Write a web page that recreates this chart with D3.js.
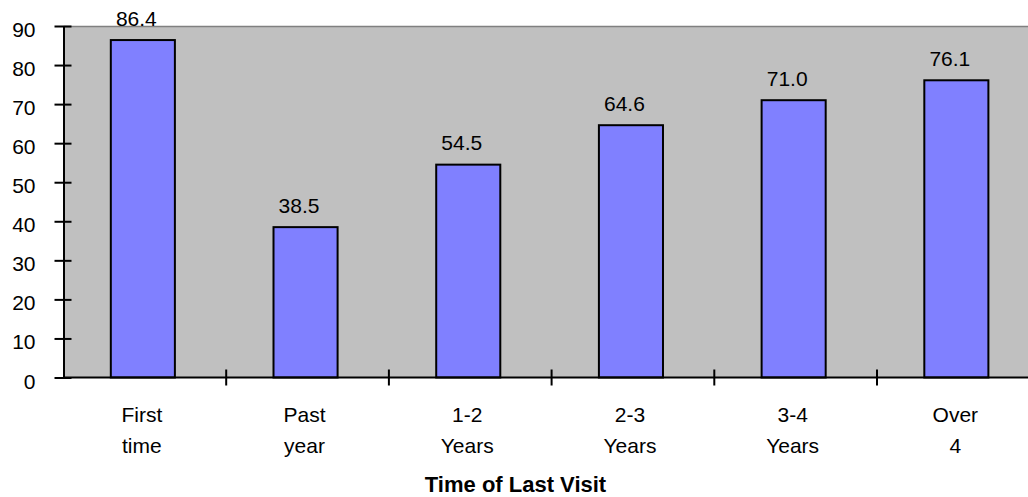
<!DOCTYPE html>
<html>
<head>
<meta charset="utf-8">
<script src="https://cdn.jsdelivr.net/npm/d3@7"></script>
<style>
  html, body { margin: 0; padding: 0; background: #fff; overflow: hidden; }
  svg { display: block; }
  text { font-family: "Liberation Sans", Arial, sans-serif; fill: #000; }
</style>
</head>
<body>
<script>
// Time since last visit: share of respondents (%)
const categories = ["First time", "Past year", "1-2 Years", "2-3 Years", "3-4 Years", "Over 4"];
const categoryLines = [["First", "time"], ["Past", "year"], ["1-2", "Years"], ["2-3", "Years"], ["3-4", "Years"], ["Over", "4"]];
const values = [86.4, 38.5, 54.5, 64.6, 71.0, 76.1];
const yTicks = [0, 10, 20, 30, 40, 50, 60, 70, 80, 90];
const axisTitle = "Time of Last Visit";

const width = 1028, height = 497;
const plot = { left: 63.5, top: 26, bottom: 377.5, step: 162.7 };

const svg = d3.select("body").append("svg")
  .attr("width", width).attr("height", height);

const x = d3.scaleBand()
  .domain(categories)
  .range([plot.left, plot.left + plot.step * categories.length])
  .paddingInner(0.6)
  .paddingOuter(0.3);

const y = d3.scaleLinear().domain([0, 90]).range([plot.bottom, plot.top]);

// plot background
svg.append("rect")
  .attr("x", plot.left).attr("y", plot.top)
  .attr("width", plot.step * categories.length)
  .attr("height", plot.bottom - plot.top)
  .attr("fill", "#c0c0c0");
svg.append("line")
  .attr("x1", plot.left).attr("x2", plot.left + plot.step * categories.length)
  .attr("y1", plot.top + 0.5).attr("y2", plot.top + 0.5)
  .attr("stroke", "#808080").attr("stroke-width", 1.5);

// bars
const barShift = -1.5;
svg.append("g").selectAll("rect")
  .data(values)
  .join("rect")
  .attr("x", (d, i) => x(categories[i]) + barShift)
  .attr("y", d => y(d))
  .attr("width", x.bandwidth() - 1)
  .attr("height", d => y(0) - y(d))
  .attr("fill", "#8080ff")
  .attr("stroke", "#000")
  .attr("stroke-width", 2);

// value labels
svg.append("g").selectAll("text")
  .data(values)
  .join("text")
  .attr("x", (d, i) => x(categories[i]) + x.bandwidth() / 2 - 8.5)
  .attr("y", d => y(d) - 14.5)
  .attr("text-anchor", "middle")
  .attr("font-size", 21)
  .text(d => d.toFixed(1));

// y axis
const yAxis = d3.axisLeft(y)
  .tickValues(yTicks)
  .tickSizeInner(9)
  .tickSizeOuter(0)
  .tickPadding(19)
  .tickFormat(d3.format("d"));
const gy = svg.append("g").attr("transform", `translate(${plot.left},0)`).call(yAxis);
gy.select(".domain").attr("stroke", "#000").attr("stroke-width", 2);
gy.selectAll(".tick line").attr("stroke", "#000").attr("stroke-width", 2).attr("x2", 8).attr("x1", -9);
gy.selectAll(".tick text").attr("font-size", 21).attr("dy", "0.5em").attr("font-family", null).attr("fill", "#000");

// x axis: ticks between categories
const boundaries = d3.range(categories.length + 1).map(i => plot.left + i * plot.step);
const gx = svg.append("g");
gx.append("line")
  .attr("x1", plot.left).attr("x2", boundaries[boundaries.length - 1])
  .attr("y1", y(0)).attr("y2", y(0))
  .attr("stroke", "#000").attr("stroke-width", 2);
gx.selectAll("line.tk")
  .data(boundaries.slice(1))
  .join("line")
  .attr("class", "tk")
  .attr("x1", d => d).attr("x2", d => d)
  .attr("y1", y(0) - 8).attr("y2", y(0) + 8)
  .attr("stroke", "#000").attr("stroke-width", 2);

// category labels (two lines)
const cl = svg.append("g").selectAll("text")
  .data(categories)
  .join("text")
  .attr("text-anchor", "middle")
  .attr("font-size", 21);
cl.each(function(d, i) {
  const cx = x(d) + x.bandwidth() / 2 - 3;
  categoryLines[i].forEach((line, j) => {
    d3.select(this).append("tspan")
      .attr("x", cx)
      .attr("y", 422 + j * 31)
      .text(line);
  });
});

// axis title
svg.append("text")
  .attr("x", 515.5)
  .attr("y", 492)
  .attr("text-anchor", "middle")
  .attr("font-size", 22)
  .attr("font-weight", "bold")
  .text(axisTitle);
</script>
</body>
</html>
